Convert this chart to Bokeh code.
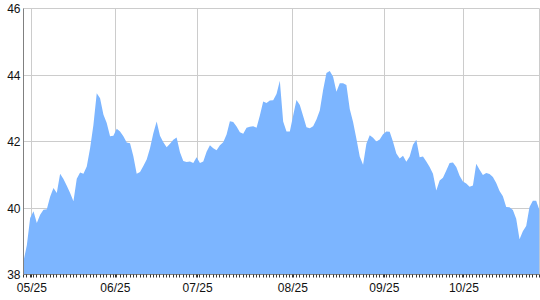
from bokeh.plotting import figure
from bokeh.models import Range1d, FixedTicker
from bokeh.embed import file_html
from bokeh.resources import INLINE

values = [
    38.40, 38.88, 39.70, 39.90, 39.55, 39.80, 39.95, 39.96, 40.34, 40.60,
    40.45, 41.03, 40.87, 40.67, 40.45, 40.20, 40.88, 41.07, 41.03, 41.25,
    41.80, 42.50, 43.45, 43.30, 42.81, 42.56, 42.16, 42.17, 42.38, 42.30,
    42.16, 41.97, 41.95, 41.56, 41.03, 41.08, 41.26, 41.46, 41.80, 42.25,
    42.60, 42.17, 41.98, 41.83, 41.93, 42.05, 42.12, 41.68, 41.41, 41.38,
    41.40, 41.35, 41.53, 41.35, 41.40, 41.69, 41.89, 41.80, 41.74, 41.89,
    41.98, 42.21, 42.61, 42.59, 42.45, 42.28, 42.23, 42.41, 42.44, 42.46,
    42.41, 42.78, 43.20, 43.16, 43.23, 43.24, 43.43, 43.83, 42.60, 42.30,
    42.30, 42.78, 43.25, 43.10, 42.77, 42.43, 42.40, 42.46, 42.66, 42.93,
    43.55, 44.06, 44.12, 43.95, 43.50, 43.75, 43.75, 43.70, 42.98, 42.59,
    42.08, 41.55, 41.30, 41.93, 42.19, 42.11, 42.00, 42.06, 42.22, 42.30,
    42.29, 41.99, 41.64, 41.49, 41.57, 41.39, 41.55, 41.90, 42.05, 41.53,
    41.55, 41.40, 41.23, 41.03, 40.53, 40.83, 40.91, 41.13, 41.35, 41.37,
    41.23, 40.97, 40.80, 40.74, 40.64, 40.68, 41.33, 41.15, 40.99, 41.05,
    41.02, 40.93, 40.75, 40.51, 40.35, 40.03, 40.02, 39.94, 39.68, 39.06,
    39.30, 39.46, 40.03, 40.22, 40.22, 39.93,
]
x_index = list(range(len(values)))

tick_positions = [2.5, 27.6, 52.3, 80.9, 108.4, 132.3]
tick_labels = ["05/25", "06/25", "07/25", "08/25", "09/25", "10/25"]
y_ticks = [38, 40, 42, 44, 46]

p = figure(width=540, height=300, output_backend="svg", toolbar_location=None,
           x_range=Range1d(0, len(values) - 1), y_range=Range1d(38, 46))
p.min_border_left = 23
p.min_border_right = 1
p.min_border_top = 8
p.min_border_bottom = 26
p.background_fill_color = "white"
p.border_fill_color = "white"
p.outline_line_color = "#cccccc"

p.varea(x=x_index, y1=[38] * len(values), y2=values, fill_color="#7cb5ff", fill_alpha=1.0)

p.xaxis.ticker = FixedTicker(ticks=tick_positions, minor_ticks=x_index)
p.xaxis.major_label_overrides = {t: l for t, l in zip(tick_positions, tick_labels)}
p.yaxis.ticker = FixedTicker(ticks=y_ticks)

for ax in (p.xaxis[0], p.yaxis[0]):
    ax.axis_line_color = "#808080"
    ax.axis_line_width = 1
    ax.major_label_text_font = "Liberation Sans"
    ax.major_label_text_font_size = "12px"
    ax.major_label_text_color = "#111111"
    ax.major_label_standoff = 3

p.xaxis.major_tick_out = 3
p.xaxis.major_tick_in = 0
p.xaxis.minor_tick_out = 3
p.xaxis.minor_tick_in = 0
p.xaxis.major_tick_line_color = "#333333"
p.xaxis.minor_tick_line_color = "#333333"

p.yaxis.major_tick_out = 0
p.yaxis.major_tick_in = 0
p.yaxis.minor_tick_line_color = None

p.xgrid.grid_line_color = "#cccccc"
p.ygrid.grid_line_color = "#cccccc"
p.xgrid.minor_grid_line_color = None
p.ygrid.minor_grid_line_color = None

open("out.html", "w").write(file_html(p, INLINE))
